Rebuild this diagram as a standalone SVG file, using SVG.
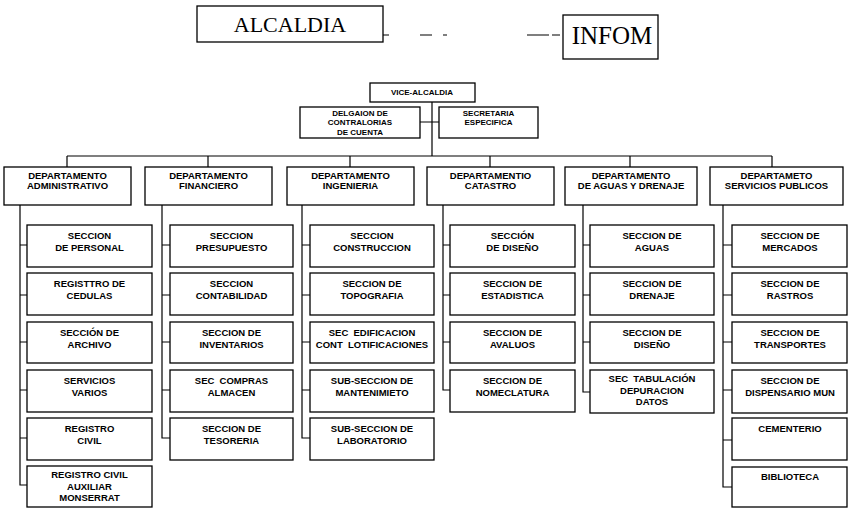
<svg xmlns="http://www.w3.org/2000/svg" width="848" height="509" viewBox="0 0 848 509">
  <style>
    .box { fill: #fff; stroke: #000; stroke-width: 1.3; }
    .ln { fill: none; stroke: #000; stroke-width: 1.2; }
    .t { font-family: "Liberation Sans", Arial, sans-serif; font-size: 9.5px; font-weight: bold; text-anchor: middle; fill: #000; }
    .ts { font-family: "Liberation Sans", Arial, sans-serif; font-size: 8px; font-weight: bold; text-anchor: middle; fill: #000; }
    .serif { font-family: "Liberation Serif", "Times New Roman", serif; text-anchor: middle; fill: #000; }
  </style>
  <rect width="848" height="509" fill="#fff"/>

  <!-- connectors -->
  <g id="connectors" class="ln">
    <!-- loose dashed link between the two top boxes -->
    <path d="M383,35 H389 M420,35 H432 M443,35 H447 M527,35 H549 M552,35 H560"/>
    <!-- vice-alcaldia trunk and staff branch -->
    <path d="M432,102 V156 M420,122 H439"/>
    <!-- department bus and drops -->
    <path d="M67,156 H772 M67,156 V167 M208,156 V167 M350,156 V167 M490,156 V167 M630,156 V167 M772,156 V167"/>
    <!-- administrativo -->
    <path d="M20,205 V485 H27 M20,245 H27 M20,295 H27 M20,342 H27 M20,390 H27 M20,438 H27"/>
    <!-- financiero -->
    <path d="M162,205 V438 H170 M162,245 H170 M162,295 H170 M162,342 H170 M162,390 H170"/>
    <!-- ingenieria -->
    <path d="M302,205 V438 H310 M302,245 H310 M302,295 H310 M302,342 H310 M302,390 H310"/>
    <!-- catastro -->
    <path d="M443,205 V390 H450 M443,245 H450 M443,295 H450 M443,342 H450"/>
    <!-- aguas y drenaje -->
    <path d="M583,205 V392 H590 M583,245 H590 M583,295 H590 M583,342 H590"/>
    <!-- servicios publicos -->
    <path d="M723,205 V487 H732 M723,245 H732 M723,295 H732 M723,342 H732 M723,390 H732 M723,440 H732"/>
  </g>

  <!-- top level -->
  <g id="alcaldia">
    <rect class="box" x="197" y="6" width="186" height="36"/>
    <text class="serif" x="290" y="32" font-size="22">ALCALDIA</text>
  </g>
  <g id="infom">
    <rect class="box" x="563" y="15" width="95" height="44"/>
    <text class="serif" x="612" y="44" font-size="25">INFOM</text>
  </g>
  <g id="vice-alcaldia">
    <rect class="box" x="370" y="83" width="105" height="19"/>
    <text class="ts" x="422" y="95">VICE-ALCALDIA</text>
  </g>
  <g id="delegacion-contralorias">
    <rect class="box" x="300" y="107" width="120" height="31"/>
    <text class="ts" x="360" y="116">DELGAION DE</text>
    <text class="ts" x="360" y="125">CONTRALORIAS</text>
    <text class="ts" x="360" y="134.5">DE CUENTA</text>
  </g>
  <g id="secretaria">
    <rect class="box" x="439" y="107" width="99" height="31"/>
    <text class="ts" x="488.5" y="115.5">SECRETARIA</text>
    <text class="ts" x="488.5" y="125">ESPECIFICA</text>
  </g>

  <!-- departments -->
  <g id="dep-administrativo">
    <rect class="box" x="4" y="167" width="127" height="38"/>
    <text class="t" x="67.5" y="178.5">DEPARTAMENTO</text>
    <text class="t" x="67.5" y="188.5">ADMINISTRATIVO</text>
  </g>
  <g id="dep-financiero">
    <rect class="box" x="145" y="167" width="127" height="38"/>
    <text class="t" x="208.5" y="178.5">DEPARTAMENTO</text>
    <text class="t" x="208.5" y="188.5">FINANCIERO</text>
  </g>
  <g id="dep-ingenieria">
    <rect class="box" x="287" y="167" width="127" height="38"/>
    <text class="t" x="350.5" y="178.5">DEPARTAMENTO</text>
    <text class="t" x="350.5" y="188.5">INGENIERIA</text>
  </g>
  <g id="dep-catastro">
    <rect class="box" x="427" y="167" width="127" height="38"/>
    <text class="t" x="490.5" y="178.5">DEPARTAMENTIO</text>
    <text class="t" x="490.5" y="188.5">CATASTRO</text>
  </g>
  <g id="dep-aguas">
    <rect class="box" x="565" y="167" width="132" height="38"/>
    <text class="t" x="631" y="178.5">DEPARTAMENTO</text>
    <text class="t" x="631" y="188.5">DE AGUAS Y DRENAJE</text>
  </g>
  <g id="dep-servicios">
    <rect class="box" x="710" y="167" width="133" height="38"/>
    <text class="t" x="776.5" y="178.5">DEPARTAMETO</text>
    <text class="t" x="776.5" y="188.5">SERVICIOS PUBLICOS</text>
  </g>

  <!-- administrativo sections -->
  <g id="adm-personal"><rect class="box" x="27" y="225" width="125" height="42"/>
    <text class="t" x="89.5" y="238.5">SECCION</text><text class="t" x="89.5" y="250.5">DE PERSONAL</text></g>
  <g id="adm-cedulas"><rect class="box" x="27" y="273" width="125" height="42"/>
    <text class="t" x="89.5" y="286.5">REGISTTRO DE</text><text class="t" x="89.5" y="298.5">CEDULAS</text></g>
  <g id="adm-archivo"><rect class="box" x="27" y="322" width="125" height="41"/>
    <text class="t" x="89.5" y="335.5">SECCIÓN DE</text><text class="t" x="89.5" y="347.5">ARCHIVO</text></g>
  <g id="adm-servicios"><rect class="box" x="27" y="370" width="125" height="42"/>
    <text class="t" x="89.5" y="383.5">SERVICIOS</text><text class="t" x="89.5" y="395.5">VARIOS</text></g>
  <g id="adm-registro-civil"><rect class="box" x="27" y="418" width="125" height="42"/>
    <text class="t" x="89.5" y="431.5">REGISTRO</text><text class="t" x="89.5" y="443.5">CIVIL</text></g>
  <g id="adm-monserrat"><rect class="box" x="27" y="466" width="125" height="41"/>
    <text class="t" x="89.5" y="478">REGISTRO CIVIL</text><text class="t" x="89.5" y="489.5">AUXILIAR</text><text class="t" x="89.5" y="501">MONSERRAT</text></g>

  <!-- financiero sections -->
  <g id="fin-presupuesto"><rect class="box" x="170" y="225" width="123" height="42"/>
    <text class="t" x="231.5" y="238.5">SECCION</text><text class="t" x="231.5" y="250.5">PRESUPUESTO</text></g>
  <g id="fin-contabilidad"><rect class="box" x="170" y="273" width="123" height="42"/>
    <text class="t" x="231.5" y="286.5">SECCION</text><text class="t" x="231.5" y="298.5">CONTABILIDAD</text></g>
  <g id="fin-inventarios"><rect class="box" x="170" y="322" width="123" height="41"/>
    <text class="t" x="231.5" y="335.5">SECCION DE</text><text class="t" x="231.5" y="347.5">INVENTARIOS</text></g>
  <g id="fin-compras"><rect class="box" x="170" y="370" width="123" height="42"/>
    <text class="t" x="231.5" y="383.5" xml:space="preserve">SEC  COMPRAS</text><text class="t" x="231.5" y="395.5">ALMACEN</text></g>
  <g id="fin-tesoreria"><rect class="box" x="170" y="418" width="123" height="42"/>
    <text class="t" x="231.5" y="431.5">SECCION DE</text><text class="t" x="231.5" y="443.5">TESORERIA</text></g>

  <!-- ingenieria sections -->
  <g id="ing-construccion"><rect class="box" x="310" y="225" width="124" height="42"/>
    <text class="t" x="372" y="238.5">SECCION</text><text class="t" x="372" y="250.5">CONSTRUCCION</text></g>
  <g id="ing-topografia"><rect class="box" x="310" y="273" width="124" height="42"/>
    <text class="t" x="372" y="286.5">SECCION DE</text><text class="t" x="372" y="298.5">TOPOGRAFIA</text></g>
  <g id="ing-edificacion"><rect class="box" x="310" y="322" width="124" height="41"/>
    <text class="t" x="372" y="335.5" xml:space="preserve">SEC  EDIFICACION</text><text class="t" x="372" y="347.5" xml:space="preserve">CONT  LOTIFICACIONES</text></g>
  <g id="ing-mantenimiento"><rect class="box" x="310" y="370" width="124" height="42"/>
    <text class="t" x="372" y="383.5">SUB-SECCION DE</text><text class="t" x="372" y="395.5">MANTENIMIETO</text></g>
  <g id="ing-laboratorio"><rect class="box" x="310" y="418" width="124" height="42"/>
    <text class="t" x="372" y="431.5">SUB-SECCION DE</text><text class="t" x="372" y="443.5">LABORATORIO</text></g>

  <!-- catastro sections -->
  <g id="cat-diseno"><rect class="box" x="450" y="225" width="125" height="42"/>
    <text class="t" x="512.5" y="238.5">SECCIÓN</text><text class="t" x="512.5" y="250.5">DE DISEÑO</text></g>
  <g id="cat-estadistica"><rect class="box" x="450" y="273" width="125" height="42"/>
    <text class="t" x="512.5" y="286.5">SECCION DE</text><text class="t" x="512.5" y="298.5">ESTADISTICA</text></g>
  <g id="cat-avaluos"><rect class="box" x="450" y="322" width="125" height="41"/>
    <text class="t" x="512.5" y="335.5">SECCION DE</text><text class="t" x="512.5" y="347.5">AVALUOS</text></g>
  <g id="cat-nomenclatura"><rect class="box" x="450" y="370" width="125" height="42"/>
    <text class="t" x="512.5" y="383.5">SECCION DE</text><text class="t" x="512.5" y="395.5">NOMECLATURA</text></g>

  <!-- aguas y drenaje sections -->
  <g id="agu-aguas"><rect class="box" x="590" y="225" width="124" height="42"/>
    <text class="t" x="652" y="238.5">SECCION DE</text><text class="t" x="652" y="250.5">AGUAS</text></g>
  <g id="agu-drenaje"><rect class="box" x="590" y="273" width="124" height="42"/>
    <text class="t" x="652" y="286.5">SECCION DE</text><text class="t" x="652" y="298.5">DRENAJE</text></g>
  <g id="agu-diseno"><rect class="box" x="590" y="322" width="124" height="41"/>
    <text class="t" x="652" y="335.5">SECCION DE</text><text class="t" x="652" y="347.5">DISEÑO</text></g>
  <g id="agu-tabulacion"><rect class="box" x="590" y="370" width="124" height="43"/>
    <text class="t" x="652" y="382" xml:space="preserve">SEC  TABULACIÓN</text><text class="t" x="652" y="393.5">DEPURACION</text><text class="t" x="652" y="405">DATOS</text></g>

  <!-- servicios publicos sections -->
  <g id="srv-mercados"><rect class="box" x="732" y="225" width="115" height="42"/>
    <text class="t" x="790" y="238.5">SECCION DE</text><text class="t" x="790" y="250.5">MERCADOS</text></g>
  <g id="srv-rastros"><rect class="box" x="732" y="273" width="115" height="42"/>
    <text class="t" x="790" y="286.5">SECCION DE</text><text class="t" x="790" y="298.5">RASTROS</text></g>
  <g id="srv-transportes"><rect class="box" x="732" y="322" width="115" height="41"/>
    <text class="t" x="790" y="335.5">SECCION DE</text><text class="t" x="790" y="347.5">TRANSPORTES</text></g>
  <g id="srv-dispensario"><rect class="box" x="732" y="370" width="115" height="43"/>
    <text class="t" x="790" y="383.5">SECCION DE</text><text class="t" x="790" y="395.5">DISPENSARIO MUN</text></g>
  <g id="srv-cementerio"><rect class="box" x="732" y="418" width="115" height="42"/>
    <text class="t" x="790" y="431.5">CEMENTERIO</text></g>
  <g id="srv-biblioteca"><rect class="box" x="732" y="467" width="115" height="40"/>
    <text class="t" x="790" y="480">BIBLIOTECA</text></g>
</svg>
